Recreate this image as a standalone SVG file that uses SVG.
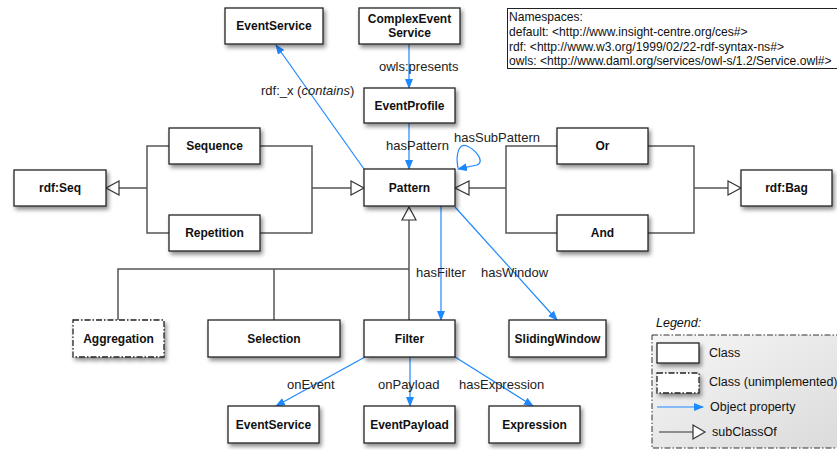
<svg xmlns="http://www.w3.org/2000/svg" width="837" height="450" viewBox="0 0 837 450">
<style>
.n{fill:#fff;stroke:#222;stroke-width:1.3}
.u{fill:#fff;stroke:#222;stroke-width:1.3;stroke-dasharray:6,2,1.5,2}
.t{font-family:"Liberation Sans",Arial,sans-serif;font-size:12px;font-weight:bold;fill:#111;text-anchor:middle}
.l{font-family:"Liberation Sans",Arial,sans-serif;font-size:13px;fill:#222}
.ns{font-family:"Liberation Sans",Arial,sans-serif;font-size:12.1px;fill:#111}
.lg{font-family:"Liberation Sans",Arial,sans-serif;font-size:12.5px;fill:#111}
.p{fill:none;stroke:#1e88ff;stroke-width:1.2}
.s{fill:none;stroke:#555;stroke-width:1.5}
.tri{fill:#fff;stroke:#333;stroke-width:1.2}
</style>
<defs>
<filter id="sh" x="-20%" y="-20%" width="150%" height="160%">
<feDropShadow dx="2" dy="3" stdDeviation="2" flood-color="#000" flood-opacity="0.45"/>
</filter>
<marker id="ar" markerWidth="10" markerHeight="8" refX="9" refY="4" orient="auto" markerUnits="userSpaceOnUse">
<path d="M0,0 L10,4 L0,8 z" fill="#1e88ff"/>
</marker>
<linearGradient id="lg" x1="0" y1="0" x2="1" y2="1">
<stop offset="0" stop-color="#f6f6f6"/>
<stop offset="1" stop-color="#dadada"/>
</linearGradient>
</defs>

<g id="namespaces">
<rect x="507.5" y="8.5" width="340" height="60" fill="#fff" stroke="#222" stroke-width="1"/>
<text class="ns" x="509" y="21">Namespaces:</text>
<text class="ns" x="509" y="36">default: &lt;http://www.insight-centre.org/ces#&gt;</text>
<text class="ns" x="509" y="51">rdf: &lt;http://www.w3.org/1999/02/22-rdf-syntax-ns#&gt;</text>
<text class="ns" x="509" y="65">owls: &lt;http://www.daml.org/services/owl-s/1.2/Service.owl#&gt;</text>
</g>

<g id="connectors">
<path class="s" d="M169,146 H147 V233 H169 M147,188 H119"/>
<polygon class="tri" points="106,188 119,181 119,195"/>
<path class="s" d="M260,146 H312 V233 H260 M312,188 H351"/>
<polygon class="tri" points="364,188 351,181 351,195"/>
<path class="s" d="M557,146 H506 V233 H557 M506,188 H469"/>
<polygon class="tri" points="455,188 469,181 469,195"/>
<path class="s" d="M648,146 H694 V233 H648 M694,188 H728"/>
<polygon class="tri" points="741,188 728,181 728,195"/>
<path class="s" d="M409,320 V220 M118,320 V269 H409 M274,269 V320"/>
<polygon class="tri" points="409,207 402,220 416,220"/>
<path class="p" d="M364,169 L276,45" marker-end="url(#ar)"/>
<path class="p" d="M409,44 V88" marker-end="url(#ar)"/>
<path class="p" d="M409,123 V169" marker-end="url(#ar)"/>
<path class="p" d="M458,168 C455,152 460,143 467,146 C474,149 486,161 477,165 L458,169" marker-end="url(#ar)"/>
<path class="p" d="M441,206 V320" marker-end="url(#ar)"/>
<path class="p" d="M455,207 L557,320" marker-end="url(#ar)"/>
<path class="p" d="M365,357 L276,406" marker-end="url(#ar)"/>
<path class="p" d="M410,357 V406" marker-end="url(#ar)"/>
<path class="p" d="M455,357 L533,406" marker-end="url(#ar)"/>
<text class="l" x="261" y="95">rdf:_x (<tspan font-style="italic">contains</tspan>)</text>
<text class="l" x="379" y="71">owls:presents</text>
<text class="l" x="386" y="150">hasPattern</text>
<text class="l" x="454" y="142">hasSubPattern</text>
<text class="l" x="416" y="277">hasFilter</text>
<text class="l" x="481" y="277">hasWindow</text>
<text class="l" x="287" y="389">onEvent</text>
<text class="l" x="378" y="389">onPayload</text>
<text class="l" x="459" y="389">hasExpression</text>
</g>

<g id="EventService1"><rect class="n" x="225" y="8" width="98" height="36" filter="url(#sh)"/><text class="t" x="274" y="30">EventService</text></g>
<g id="ComplexEventService"><rect class="n" x="359" y="8" width="101" height="36" filter="url(#sh)"/><text class="t" x="409.5" y="23">ComplexEvent</text><text class="t" x="409.5" y="37">Service</text></g>
<g id="EventProfile"><rect class="n" x="364" y="88" width="91" height="35" filter="url(#sh)"/><text class="t" x="409.5" y="110">EventProfile</text></g>
<g id="Pattern"><rect class="n" x="364" y="169" width="91" height="37" filter="url(#sh)"/><text class="t" x="409.5" y="192">Pattern</text></g>
<g id="Sequence"><rect class="n" x="169" y="128" width="91" height="36" filter="url(#sh)"/><text class="t" x="214.5" y="150">Sequence</text></g>
<g id="Repetition"><rect class="n" x="169" y="215" width="91" height="36" filter="url(#sh)"/><text class="t" x="214.5" y="237">Repetition</text></g>
<g id="rdfSeq"><rect class="n" x="14" y="170" width="92" height="36" filter="url(#sh)"/><text class="t" x="60" y="192">rdf:Seq</text></g>
<g id="Or"><rect class="n" x="557" y="128" width="91" height="36" filter="url(#sh)"/><text class="t" x="602.5" y="150">Or</text></g>
<g id="And"><rect class="n" x="557" y="215" width="91" height="36" filter="url(#sh)"/><text class="t" x="602.5" y="237">And</text></g>
<g id="rdfBag"><rect class="n" x="741" y="170" width="91" height="36" filter="url(#sh)"/><text class="t" x="786.5" y="192">rdf:Bag</text></g>
<g id="Aggregation"><rect class="u" x="73" y="320" width="91" height="37" filter="url(#sh)"/><text class="t" x="118.5" y="343">Aggregation</text></g>
<g id="Selection"><rect class="n" x="208" y="320" width="132" height="37" filter="url(#sh)"/><text class="t" x="274" y="343">Selection</text></g>
<g id="Filter"><rect class="n" x="364" y="320" width="91" height="37" filter="url(#sh)"/><text class="t" x="409.5" y="343">Filter</text></g>
<g id="SlidingWindow"><rect class="n" x="509" y="320" width="97" height="37" filter="url(#sh)"/><text class="t" x="557.5" y="343">SlidingWindow</text></g>
<g id="EventService2"><rect class="n" x="228" y="406" width="91" height="37" filter="url(#sh)"/><text class="t" x="273.5" y="429">EventService</text></g>
<g id="EventPayload"><rect class="n" x="364" y="406" width="91" height="37" filter="url(#sh)"/><text class="t" x="409.5" y="429">EventPayload</text></g>
<g id="Expression"><rect class="n" x="489" y="406" width="91" height="37" filter="url(#sh)"/><text class="t" x="534.5" y="429">Expression</text></g>

<g id="legend">
<text class="lg" x="656" y="327" font-style="italic">Legend:</text>
<rect x="652" y="335" width="200" height="113" fill="url(#lg)" stroke="#333" stroke-width="1" stroke-dasharray="6,2,1.5,2"/>
<rect class="n" x="657" y="343" width="42" height="20" filter="url(#sh)"/>
<text class="lg" x="709" y="357">Class</text>
<rect class="u" x="657" y="373" width="42" height="20" filter="url(#sh)"/>
<text class="lg" x="709" y="386">Class (unimplemented)</text>
<path class="p" d="M657,407 H703" marker-end="url(#ar)"/>
<text class="lg" x="710" y="411">Object property</text>
<path d="M659,432 H693" stroke="#333" stroke-width="1.2"/>
<polygon class="tri" points="705,432 693,425 693,439"/>
<text class="lg" x="712" y="436">subClassOf</text>
</g>
</svg>
